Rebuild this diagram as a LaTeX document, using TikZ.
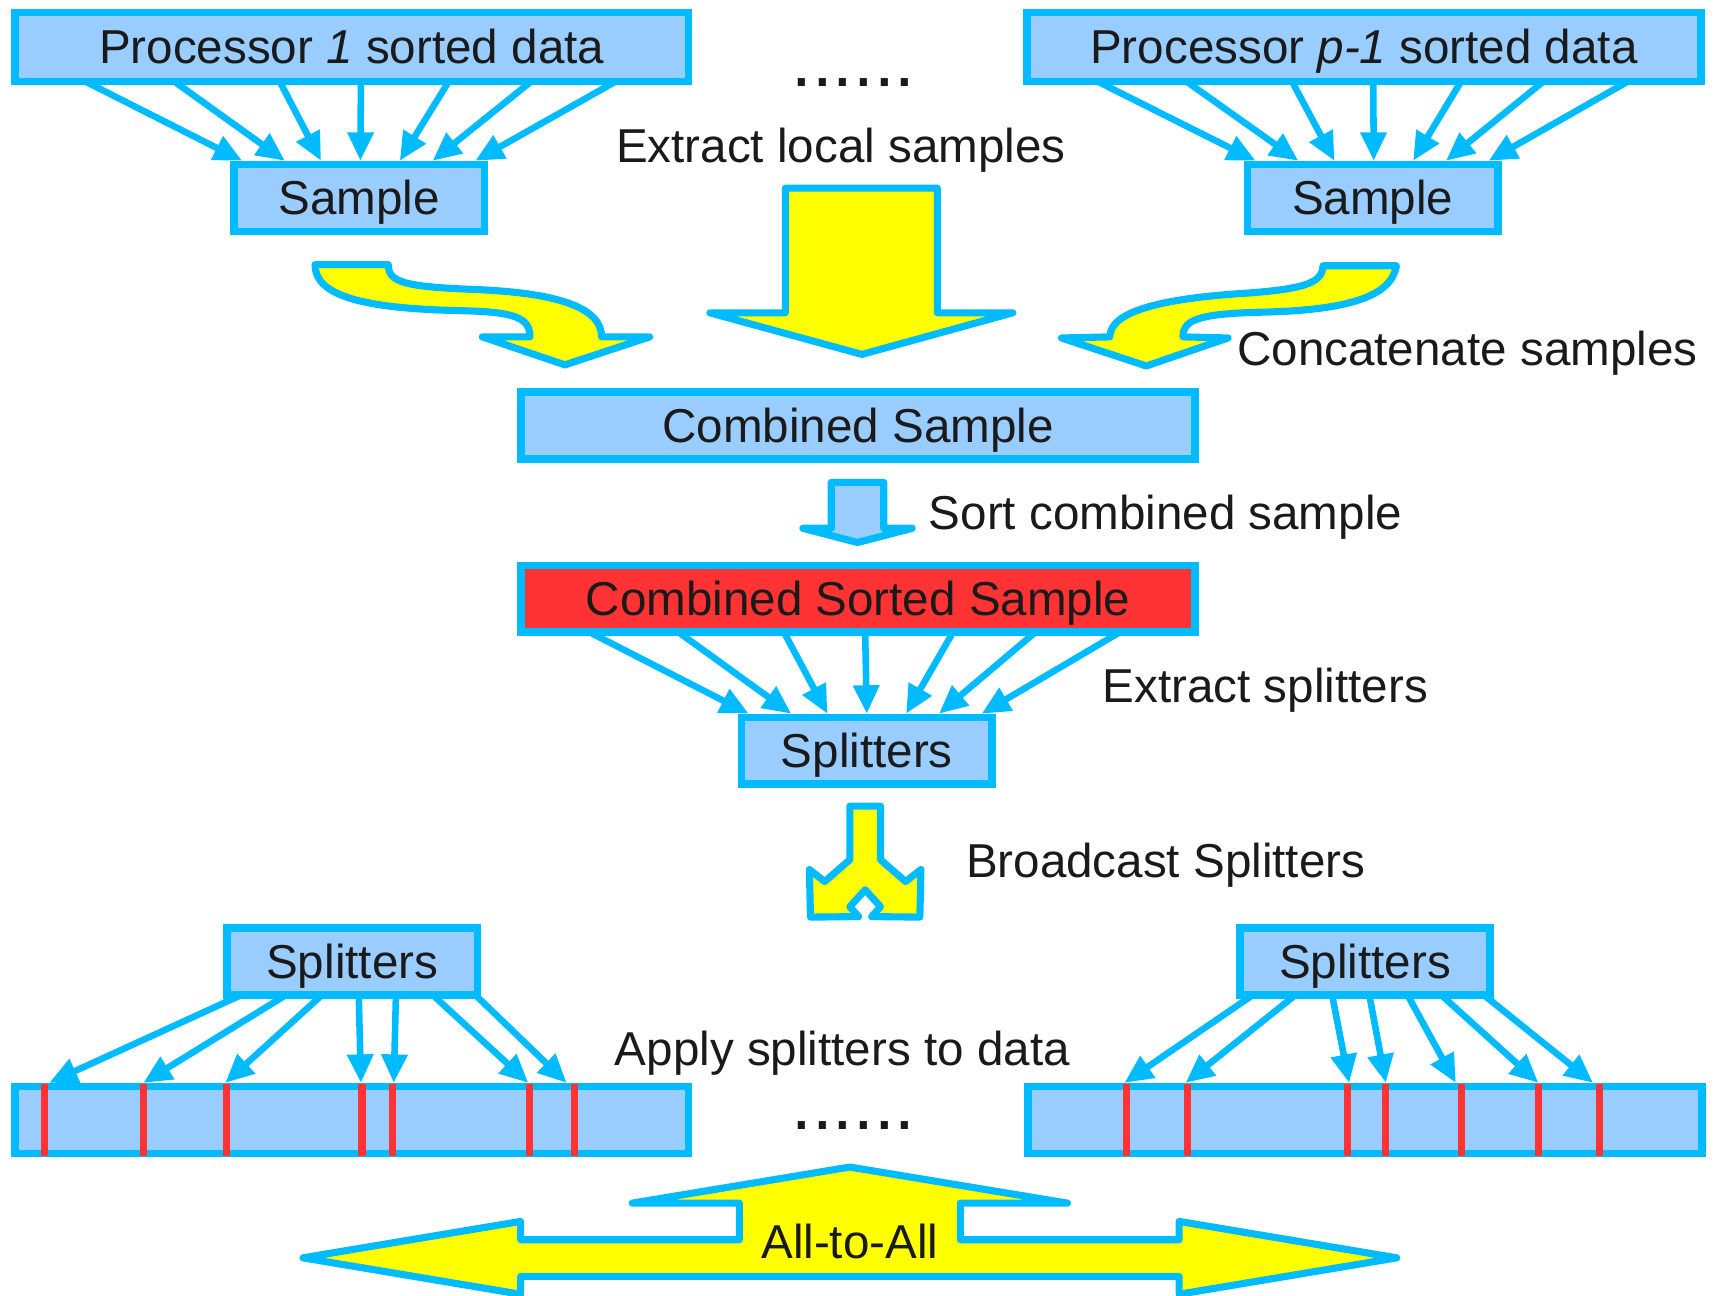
\documentclass[tikz,border=0pt]{standalone}
\usepackage{fontspec}
\setmainfont{Liberation Sans}
\usetikzlibrary{arrows.meta,calc}
\definecolor{bord}{HTML}{00BBFF}
\definecolor{lb}{HTML}{99CCFF}
\definecolor{rd}{HTML}{FF3333}
\definecolor{yl}{HTML}{FFFF00}
\definecolor{txt}{HTML}{1A1A1A}
\begin{document}
\begin{tikzpicture}[x=1pt,y=-1pt,
  mainfont/.style={font=\fontsize{43.5}{52}\selectfont},
  box/.style={draw=bord, fill=lb, line width=7pt, inner sep=0pt, text height=31pt, text depth=0pt, mainfont, text=txt},
  bigbox/.style={box, minimum width=616pt, minimum height=61pt},
  smallbox/.style={box, minimum width=229pt, minimum height=61pt},
  conn/.style={draw=bord, line width=6pt, -{Triangle[length=26pt,width=23pt]}},
  yshape/.style={draw=bord, fill=yl, line width=6.5pt, line join=round},
  redline/.style={draw=rd, line width=6.5pt},
  lbl/.style={mainfont, text=txt, inner sep=0pt, anchor=base west},
  dots/.style={font=\fontsize{68}{70}\selectfont, text=txt, inner sep=0pt, anchor=base west}]
\useasboundingbox (0,0) rectangle (1568,1184);

% yellow / blue block arrows
\draw[yshape] (718,172) -- (857,172) -- (857,286) -- (926,286) -- (788,324) -- (649,286) -- (718,286) -- cycle;
\draw[yshape] (288,242) -- (355,242) .. controls (355,258) and (370,262) .. (430,264.5)
  .. controls (500,267) and (550,278) .. (550,308) -- (594,308) -- (516.5,333.6) -- (441,308) -- (484.5,308)
  .. controls (484.5,290) and (470,285) .. (420,284) .. controls (330,282) and (288,270) .. (288,242) -- cycle;
\draw[yshape] (1276.7,243) -- (1209.6,243) .. controls (1209,258) and (1195,264) .. (1140,268)
  .. controls (1060,273) and (1015,285) .. (1014.6,308) -- (970.5,309) -- (1048,334.6) -- (1122.8,309) -- (1081.6,308)
  .. controls (1081,293) and (1095,287) .. (1150,285.5) .. controls (1230,284) and (1272,272) .. (1276.7,243) -- cycle;
\draw[yshape, fill=lb] (760,441) -- (808,441) -- (808,483) -- (834,483) -- (784,496) -- (734,483) -- (760,483) -- cycle;
\draw[yshape] (777,737) -- (805,737) -- (805,786) -- (828,806) -- (842,795) -- (841,838.5) -- (797,838) -- (805,829)
  -- (791,813.5) -- (777,829) -- (785,838) -- (741,838.5) -- (740,795) -- (754,806) -- (777,786) -- cycle;
\draw[yshape] (777,1067) -- (976,1100) -- (878,1100) -- (878,1133.5) -- (1078,1133.5) -- (1078,1116.7) -- (1277,1150)
  -- (1078,1183.3) -- (1078,1167) -- (476,1167) -- (476,1183.3) -- (277,1150) -- (476,1116.7) -- (476,1133.5)
  -- (676,1133.5) -- (676,1100) -- (578,1100) -- cycle;

% boxes
\node[bigbox, minimum height=63pt] (p1) at (321.5,43) {Processor \textit{1} sorted data};
\node[bigbox, minimum height=63pt] (pp) at (1247,43) {Processor \textit{p-1} sorted data};
\node[smallbox] (s1) at (328.5,181) {Sample};
\node[smallbox] (s2) at (1255,181) {Sample};
\node[bigbox] (cs) at (784.5,389) {Combined Sample};
\node[bigbox, fill=rd] (css) at (784.5,547.5) {Combined Sorted Sample};
\node[smallbox] (sp) at (792.5,686.5) {Splitters};
\node[smallbox] (sp1) at (322,879) {Splitters};
\node[smallbox] (sp2) at (1248,879) {Splitters};
\node[bigbox] (d1) at (321.5,1024) {};
\node[bigbox] (d2) at (1248,1024) {};

% red splitter marks
\foreach \r in {31,121,197,321,349,474,515} {
  \draw[redline] ($(d1.north west)+(\r,1)$) -- ($(d1.south west)+(\r,-1)$);
}
\foreach \r in {93.5,149.5,295.5,330.5,399.5,470.5,525.5} {
  \draw[redline] ($(d2.north west)+(\r,1)$) -- ($(d2.south west)+(\r,-1)$);
}

% connectors
\foreach \a/\b in {69/11,150/50,246/83,320/119,400/155,475/185,552/224} {
  \draw[conn] ($(p1.south west)+(\a,-3)$) -- ($(s1.north west)+(\b,0)$);
  \draw[conn] ($(pp.south west)+(\a,-3)$) -- ($(s2.north west)+(\b,0)$);
  \draw[conn] ($(css.south west)+(\a-2,-3)$) -- ($(sp.north west)+(\b-1,0)$);
}
\foreach \a/\b in {16/35,57/121,90/196,124/320,158/350,192/473,231/508} {
  \draw[conn] ($(sp1.south west)+(\a,-3)$) -- ($(d1.north west)+(\b,0)$);
}
\foreach \a/\b in {15/91.5,54/147.5,88/297,122/330.5,157/394.5,188/470,227/520} {
  \draw[conn] ($(sp2.south west)+(\a,-3)$) -- ($(d2.north west)+(\b,0)$);
}

% labels
\node[lbl] (t1) at (563,149) {Extract local samples};
\node[lbl] (t2) at (1131,334) {Concatenate samples};
\node[lbl] (t3) at (849,484) {Sort combined sample};
\node[lbl] (t4) at (1008,642) {Extract splitters};
\node[lbl] (t5) at (883,802) {Broadcast Splitters};
\node[lbl] (t6) at (562,974) {Apply splitters to data};
\node[mainfont, text=txt, inner sep=0pt, anchor=base] (t7) at (777,1151) {All-to-All};
\node[dots] (dt1) at (723.5,79) {......};
\node[dots] (dt2) at (723.5,1032.5) {......};
\end{tikzpicture}
\end{document}
